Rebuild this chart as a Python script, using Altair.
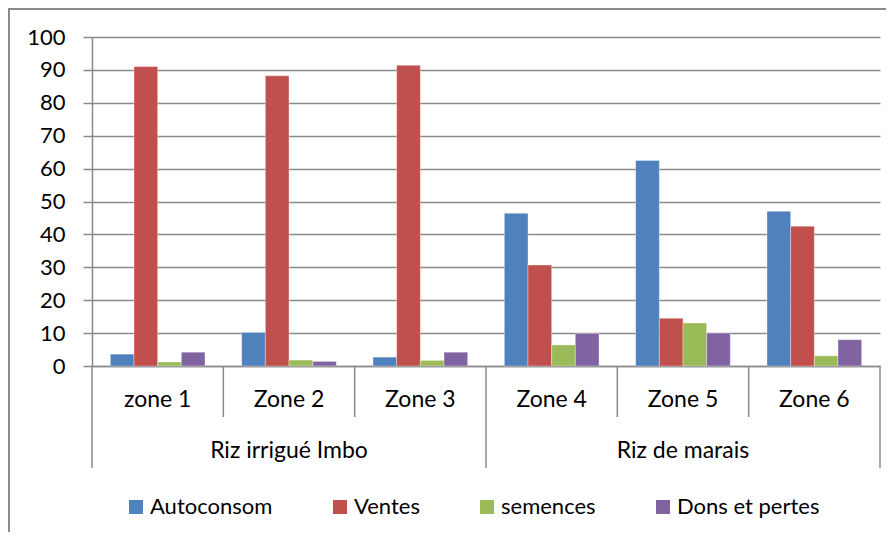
import altair as alt
import pandas as pd

zones = ["zone 1", "Zone 2", "Zone 3", "Zone 4", "Zone 5", "Zone 6"]
group_labels = ["Riz irrigué Imbo", "Riz de marais"]
group_centers = ["Zone 2", "Zone 5"]
series = ["Autoconsom", "Ventes", "semences", "Dons et pertes"]
colors = ["#4F81BD", "#C0504D", "#9BBB59", "#8064A2"]

autoconsom = [3.6, 10.2, 2.7, 46.4, 62.5, 47.0]
ventes = [91.0, 88.2, 91.4, 30.7, 14.5, 42.5]
semences = [1.2, 1.8, 1.7, 6.4, 13.1, 3.1]
dons = [4.2, 1.4, 4.2, 9.9, 10.0, 8.0]

y_ticks = list(range(0, 101, 10))

rows = []
for s, vals in zip(series, [autoconsom, ventes, semences, dons]):
    for z, v in zip(zones, vals):
        rows.append({"zone": z, "serie": s, "value": v})
df = pd.DataFrame(rows)

FONT = "Lato"
GRAY = "#8a8a8a"

xscale = alt.Scale(paddingInner=0, paddingOuter=0)

bars = alt.Chart(df).mark_bar(stroke="white", strokeOpacity=0.35, strokeWidth=1).encode(
    x=alt.X("zone:N", sort=zones, scale=xscale, title=None,
            axis=alt.Axis(labelAngle=0, ticks=False, labelPadding=33, labelBaseline="middle",
                          domainColor=GRAY, domainWidth=1.5, labelFontSize=23, labelFont=FONT,
                          labelColor="black", grid=False)),
    xOffset=alt.XOffset("serie:N", sort=series, scale=alt.Scale(paddingInner=0, paddingOuter=0.775)),
    y=alt.Y("value:Q", scale=alt.Scale(domain=[0, 100], nice=False), title=None,
            axis=alt.Axis(values=y_ticks, grid=True, gridColor=GRAY, gridWidth=1.5,
                          domainColor=GRAY, domainWidth=1.5, tickColor=GRAY, tickWidth=1.5,
                          tickSize=9, labelPadding=18, labelFontSize=22, labelFont=FONT,
                          labelColor="black")),
    color=alt.Color("serie:N", sort=series, scale=alt.Scale(domain=series, range=colors),
                    legend=alt.Legend(title=None, orient="none", direction="horizontal",
                                      legendX=33, legendY=459, symbolType="square",
                                      symbolSize=196, symbolStrokeWidth=0, labelFontSize=22,
                                      labelFont=FONT, labelColor="black", columnPadding=56,
                                      labelOffset=3, padding=0, labelLimit=300)),
)

short_sep = pd.DataFrame({"zone": ["Zone 2", "Zone 3", "Zone 5", "Zone 6"]})
long_sep = pd.DataFrame({"zone": ["zone 1", "Zone 4"]})
end_sep = pd.DataFrame({"zone": ["Zone 6"]})

r_short = alt.Chart(short_sep).mark_rule(color=GRAY, strokeWidth=1.5).encode(
    x=alt.X("zone:N", sort=zones, bandPosition=0), y=alt.value(329), y2=alt.value(380))
r_long = alt.Chart(long_sep).mark_rule(color=GRAY, strokeWidth=1.5).encode(
    x=alt.X("zone:N", sort=zones, bandPosition=0), y=alt.value(329), y2=alt.value(431))
r_end = alt.Chart(end_sep).mark_rule(color=GRAY, strokeWidth=1.5).encode(
    x=alt.X("zone:N", sort=zones, bandPosition=1), y=alt.value(329), y2=alt.value(431))

grp = pd.DataFrame({"zone": group_centers, "label": group_labels})
g_text = alt.Chart(grp).mark_text(font=FONT, fontSize=23, color="black", baseline="middle").encode(
    x=alt.X("zone:N", sort=zones, bandPosition=0.5), y=alt.value(414), text="label:N")

frame = alt.Chart(pd.DataFrame({"a": [0]})).mark_rect(fillOpacity=0, stroke=GRAY, strokeWidth=2).encode(
    x=alt.value(-83), x2=alt.value(900), y=alt.value(-28), y2=alt.value(700))

chart = alt.layer(frame, bars, r_short, r_long, r_end, g_text).properties(
    width=788, height=329, autosize="none",
    padding={"left": 84, "top": 29, "right": 6, "bottom": 166},
).configure_view(stroke=None)

chart.save("out.html", embed_options={"renderer": "svg", "actions": False})
